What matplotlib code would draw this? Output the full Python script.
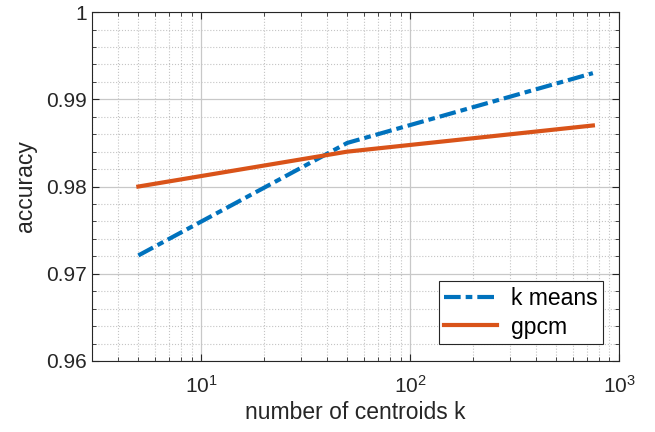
"""
Accuracy vs number of centroids.
"""

import matplotlib

matplotlib.use("Agg")
import matplotlib.pyplot as plt
from matplotlib.ticker import LogLocator, MultipleLocator, FixedLocator

plt.rcParams["font.family"] = ["Liberation Sans", "DejaVu Sans"]
plt.rcParams["mathtext.fontset"] = "custom"
plt.rcParams["mathtext.rm"] = "Liberation Sans"
plt.rcParams["mathtext.default"] = "regular"

# data
centroids = [5, 50, 750]
kmeans_acc = [0.9721, 0.9850, 0.9930]
gpcm_acc = [0.9800, 0.9840, 0.9870]

x_ticks = [10, 100, 1000]
y_ticks = [0.96, 0.97, 0.98, 0.99, 1.0]
y_tick_labels = ["0.96", "0.97", "0.98", "0.99", "1"]

blue = "#0072BD"
orange = "#D95319"
dark = "#262626"

fig = plt.figure(figsize=(6.55, 4.32), dpi=100)
ax = fig.add_axes([0.1405, 0.1644, 0.8045, 0.8076])

ax.plot(centroids, kmeans_acc, color=blue, lw=3,
        linestyle=(0, (4, 1.2, 1.6, 1.2)), label="k means", zorder=5)
ax.plot(centroids, gpcm_acc, color=orange, lw=3, label="gpcm", zorder=5)

ax.set_xscale("log")
ax.set_xlim(3, 1000)
ax.set_ylim(0.96, 1.0)

ax.xaxis.set_major_locator(FixedLocator(x_ticks))
ax.xaxis.set_minor_locator(LogLocator(base=10, subs=range(2, 10), numticks=20))
ax.set_xticks(x_ticks)
ax.set_xticklabels([r"$10^{1}$", r"$10^{2}$", r"$10^{3}$"])
ax.set_yticks(y_ticks)
ax.set_yticklabels(y_tick_labels)
ax.yaxis.set_minor_locator(MultipleLocator(0.002))

# grid: solid major, dotted minor
ax.grid(True, which="major", color="#c8c8c8", linestyle="-", linewidth=0.9, zorder=0)
ax.grid(True, which="minor", color="#c4c4c4", linestyle=":", linewidth=0.8, zorder=0)
ax.set_axisbelow(True)

ax.tick_params(which="both", direction="in", top=True, right=True,
               colors=dark, labelsize=15)
ax.tick_params(which="major", length=5, width=0.8)
ax.tick_params(which="minor", length=3, width=0.6)
ax.tick_params(axis="x", which="major", pad=10)
for s in ax.spines.values():
    s.set_color(dark)
    s.set_linewidth(0.8)

ax.set_xlabel("number of centroids k", fontsize=16.5, color=dark, labelpad=3)
ax.set_ylabel("accuracy", fontsize=16.5, color=dark, labelpad=7)

leg = ax.legend(loc="lower right", bbox_to_anchor=(0.97, 0.048), fontsize=16.5,
                frameon=True, fancybox=False, framealpha=1, edgecolor=dark,
                handlelength=2.3, borderpad=0.25, labelspacing=0.25,
                handletextpad=0.6, borderaxespad=0)
leg.get_frame().set_linewidth(0.8)

fig.savefig("out.png", dpi=100)
